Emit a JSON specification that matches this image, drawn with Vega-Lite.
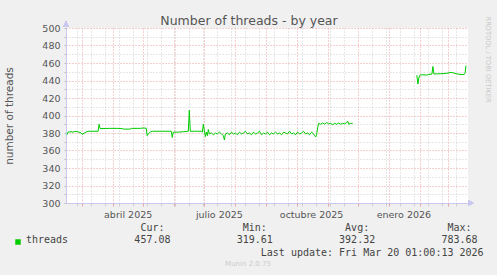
{
  "$schema": "https://vega.github.io/schema/vega-lite/v6.json",
  "width": 402,
  "height": 175,
  "autosize": {"type": "none"},
  "padding": {"left": 66, "top": 28, "right": 29, "bottom": 72},
  "background": "#f0f0f0",
  "title": {
    "text": "Munin 2.0.75",
    "orient": "bottom",
    "anchor": "middle",
    "frame": "group",
    "dx": -19,
    "offset": 3,
    "baseline": "top",
    "font": "DejaVu Sans",
    "fontSize": 7,
    "fontWeight": "normal",
    "color": "#cccccc"
  },
  "config": {
    "font": "DejaVu Sans",
    "view": {"fill": "#ffffff", "stroke": null}
  },
  "data": {
    "values": [
      {"d": "2025-02-14", "v": 378, "series": "threads", "seg": 1},
      {"d": "2025-02-15", "v": 381, "series": "threads", "seg": 1},
      {"d": "2025-02-18", "v": 381.5, "series": "threads", "seg": 1},
      {"d": "2025-02-20", "v": 381, "series": "threads", "seg": 1},
      {"d": "2025-02-22", "v": 381.8, "series": "threads", "seg": 1},
      {"d": "2025-02-24", "v": 381.5, "series": "threads", "seg": 1},
      {"d": "2025-02-26", "v": 381, "series": "threads", "seg": 1},
      {"d": "2025-02-28", "v": 380, "series": "threads", "seg": 1},
      {"d": "2025-03-01", "v": 378.5, "series": "threads", "seg": 1},
      {"d": "2025-03-02", "v": 379, "series": "threads", "seg": 1},
      {"d": "2025-03-04", "v": 380.5, "series": "threads", "seg": 1},
      {"d": "2025-03-06", "v": 381.5, "series": "threads", "seg": 1},
      {"d": "2025-03-07", "v": 382, "series": "threads", "seg": 1},
      {"d": "2025-03-12", "v": 382, "series": "threads", "seg": 1},
      {"d": "2025-03-17", "v": 382, "series": "threads", "seg": 1},
      {"d": "2025-03-18", "v": 390, "series": "threads", "seg": 1},
      {"d": "2025-03-19", "v": 385, "series": "threads", "seg": 1},
      {"d": "2025-03-28", "v": 385.3, "series": "threads", "seg": 1},
      {"d": "2025-04-05", "v": 385.3, "series": "threads", "seg": 1},
      {"d": "2025-04-10", "v": 385, "series": "threads", "seg": 1},
      {"d": "2025-04-11", "v": 384.5, "series": "threads", "seg": 1},
      {"d": "2025-04-18", "v": 384.5, "series": "threads", "seg": 1},
      {"d": "2025-04-19", "v": 385.3, "series": "threads", "seg": 1},
      {"d": "2025-04-28", "v": 385.3, "series": "threads", "seg": 1},
      {"d": "2025-05-01", "v": 385.7, "series": "threads", "seg": 1},
      {"d": "2025-05-04", "v": 385.5, "series": "threads", "seg": 1},
      {"d": "2025-05-05", "v": 377, "series": "threads", "seg": 1},
      {"d": "2025-05-06", "v": 379, "series": "threads", "seg": 1},
      {"d": "2025-05-08", "v": 381, "series": "threads", "seg": 1},
      {"d": "2025-05-10", "v": 382, "series": "threads", "seg": 1},
      {"d": "2025-05-20", "v": 382, "series": "threads", "seg": 1},
      {"d": "2025-05-29", "v": 382, "series": "threads", "seg": 1},
      {"d": "2025-05-30", "v": 375, "series": "threads", "seg": 1},
      {"d": "2025-05-31", "v": 381, "series": "threads", "seg": 1},
      {"d": "2025-06-05", "v": 381, "series": "threads", "seg": 1},
      {"d": "2025-06-10", "v": 381.5, "series": "threads", "seg": 1},
      {"d": "2025-06-15", "v": 382, "series": "threads", "seg": 1},
      {"d": "2025-06-16", "v": 406, "series": "threads", "seg": 1},
      {"d": "2025-06-17", "v": 382, "series": "threads", "seg": 1},
      {"d": "2025-06-24", "v": 382, "series": "threads", "seg": 1},
      {"d": "2025-06-28", "v": 382, "series": "threads", "seg": 1},
      {"d": "2025-06-29", "v": 381, "series": "threads", "seg": 1},
      {"d": "2025-06-30", "v": 390, "series": "threads", "seg": 1},
      {"d": "2025-07-01", "v": 383, "series": "threads", "seg": 1},
      {"d": "2025-07-02", "v": 376, "series": "threads", "seg": 1},
      {"d": "2025-07-03", "v": 381, "series": "threads", "seg": 1},
      {"d": "2025-07-04", "v": 377, "series": "threads", "seg": 1},
      {"d": "2025-07-05", "v": 384, "series": "threads", "seg": 1},
      {"d": "2025-07-06", "v": 379, "series": "threads", "seg": 1},
      {"d": "2025-07-08", "v": 380, "series": "threads", "seg": 1},
      {"d": "2025-07-10", "v": 378, "series": "threads", "seg": 1},
      {"d": "2025-07-12", "v": 380, "series": "threads", "seg": 1},
      {"d": "2025-07-14", "v": 379, "series": "threads", "seg": 1},
      {"d": "2025-07-16", "v": 381, "series": "threads", "seg": 1},
      {"d": "2025-07-18", "v": 379, "series": "threads", "seg": 1},
      {"d": "2025-07-20", "v": 377, "series": "threads", "seg": 1},
      {"d": "2025-07-21", "v": 372, "series": "threads", "seg": 1},
      {"d": "2025-07-22", "v": 379, "series": "threads", "seg": 1},
      {"d": "2025-07-24", "v": 380, "series": "threads", "seg": 1},
      {"d": "2025-07-26", "v": 378, "series": "threads", "seg": 1},
      {"d": "2025-07-28", "v": 381, "series": "threads", "seg": 1},
      {"d": "2025-07-30", "v": 379, "series": "threads", "seg": 1},
      {"d": "2025-08-01", "v": 380, "series": "threads", "seg": 1},
      {"d": "2025-08-03", "v": 378, "series": "threads", "seg": 1},
      {"d": "2025-08-05", "v": 381, "series": "threads", "seg": 1},
      {"d": "2025-08-07", "v": 379, "series": "threads", "seg": 1},
      {"d": "2025-08-09", "v": 380, "series": "threads", "seg": 1},
      {"d": "2025-08-11", "v": 382, "series": "threads", "seg": 1},
      {"d": "2025-08-13", "v": 379, "series": "threads", "seg": 1},
      {"d": "2025-08-15", "v": 380, "series": "threads", "seg": 1},
      {"d": "2025-08-17", "v": 378, "series": "threads", "seg": 1},
      {"d": "2025-08-19", "v": 381, "series": "threads", "seg": 1},
      {"d": "2025-08-21", "v": 379, "series": "threads", "seg": 1},
      {"d": "2025-08-23", "v": 380, "series": "threads", "seg": 1},
      {"d": "2025-08-25", "v": 382, "series": "threads", "seg": 1},
      {"d": "2025-08-27", "v": 378, "series": "threads", "seg": 1},
      {"d": "2025-08-29", "v": 380, "series": "threads", "seg": 1},
      {"d": "2025-08-31", "v": 379, "series": "threads", "seg": 1},
      {"d": "2025-09-02", "v": 381, "series": "threads", "seg": 1},
      {"d": "2025-09-04", "v": 378, "series": "threads", "seg": 1},
      {"d": "2025-09-06", "v": 380, "series": "threads", "seg": 1},
      {"d": "2025-09-08", "v": 379, "series": "threads", "seg": 1},
      {"d": "2025-09-10", "v": 381, "series": "threads", "seg": 1},
      {"d": "2025-09-12", "v": 379, "series": "threads", "seg": 1},
      {"d": "2025-09-14", "v": 380, "series": "threads", "seg": 1},
      {"d": "2025-09-16", "v": 378, "series": "threads", "seg": 1},
      {"d": "2025-09-18", "v": 381, "series": "threads", "seg": 1},
      {"d": "2025-09-20", "v": 380, "series": "threads", "seg": 1},
      {"d": "2025-09-22", "v": 379, "series": "threads", "seg": 1},
      {"d": "2025-09-24", "v": 382, "series": "threads", "seg": 1},
      {"d": "2025-09-26", "v": 379, "series": "threads", "seg": 1},
      {"d": "2025-09-28", "v": 380, "series": "threads", "seg": 1},
      {"d": "2025-09-30", "v": 378, "series": "threads", "seg": 1},
      {"d": "2025-10-02", "v": 381, "series": "threads", "seg": 1},
      {"d": "2025-10-04", "v": 379, "series": "threads", "seg": 1},
      {"d": "2025-10-06", "v": 380, "series": "threads", "seg": 1},
      {"d": "2025-10-08", "v": 382, "series": "threads", "seg": 1},
      {"d": "2025-10-10", "v": 379, "series": "threads", "seg": 1},
      {"d": "2025-10-12", "v": 380, "series": "threads", "seg": 1},
      {"d": "2025-10-14", "v": 378, "series": "threads", "seg": 1},
      {"d": "2025-10-16", "v": 381, "series": "threads", "seg": 1},
      {"d": "2025-10-18", "v": 379, "series": "threads", "seg": 1},
      {"d": "2025-10-19", "v": 377, "series": "threads", "seg": 1},
      {"d": "2025-10-20", "v": 375.5, "series": "threads", "seg": 1},
      {"d": "2025-10-21", "v": 378, "series": "threads", "seg": 1},
      {"d": "2025-10-22", "v": 386, "series": "threads", "seg": 1},
      {"d": "2025-10-23", "v": 391, "series": "threads", "seg": 1},
      {"d": "2025-10-25", "v": 390, "series": "threads", "seg": 1},
      {"d": "2025-10-27", "v": 391.5, "series": "threads", "seg": 1},
      {"d": "2025-10-29", "v": 390, "series": "threads", "seg": 1},
      {"d": "2025-10-31", "v": 392, "series": "threads", "seg": 1},
      {"d": "2025-11-02", "v": 390.5, "series": "threads", "seg": 1},
      {"d": "2025-11-04", "v": 391, "series": "threads", "seg": 1},
      {"d": "2025-11-06", "v": 389.5, "series": "threads", "seg": 1},
      {"d": "2025-11-08", "v": 391, "series": "threads", "seg": 1},
      {"d": "2025-11-10", "v": 390, "series": "threads", "seg": 1},
      {"d": "2025-11-12", "v": 391.5, "series": "threads", "seg": 1},
      {"d": "2025-11-14", "v": 390, "series": "threads", "seg": 1},
      {"d": "2025-11-16", "v": 391, "series": "threads", "seg": 1},
      {"d": "2025-11-18", "v": 390.5, "series": "threads", "seg": 1},
      {"d": "2025-11-20", "v": 392, "series": "threads", "seg": 1},
      {"d": "2025-11-21", "v": 393.5, "series": "threads", "seg": 1},
      {"d": "2025-11-22", "v": 390, "series": "threads", "seg": 1},
      {"d": "2025-11-24", "v": 391, "series": "threads", "seg": 1},
      {"d": "2025-11-26", "v": 391, "series": "threads", "seg": 1},
      {"d": "2026-01-29", "v": 446, "series": "threads", "seg": 2},
      {"d": "2026-01-30", "v": 436, "series": "threads", "seg": 2},
      {"d": "2026-01-31", "v": 443, "series": "threads", "seg": 2},
      {"d": "2026-02-01", "v": 446, "series": "threads", "seg": 2},
      {"d": "2026-02-02", "v": 446.5, "series": "threads", "seg": 2},
      {"d": "2026-02-05", "v": 446.5, "series": "threads", "seg": 2},
      {"d": "2026-02-08", "v": 446.2, "series": "threads", "seg": 2},
      {"d": "2026-02-10", "v": 447, "series": "threads", "seg": 2},
      {"d": "2026-02-13", "v": 447.4, "series": "threads", "seg": 2},
      {"d": "2026-02-14", "v": 456, "series": "threads", "seg": 2},
      {"d": "2026-02-15", "v": 447.4, "series": "threads", "seg": 2},
      {"d": "2026-02-18", "v": 447.6, "series": "threads", "seg": 2},
      {"d": "2026-02-22", "v": 447.8, "series": "threads", "seg": 2},
      {"d": "2026-02-26", "v": 448, "series": "threads", "seg": 2},
      {"d": "2026-03-01", "v": 448.5, "series": "threads", "seg": 2},
      {"d": "2026-03-04", "v": 449.3, "series": "threads", "seg": 2},
      {"d": "2026-03-07", "v": 448.5, "series": "threads", "seg": 2},
      {"d": "2026-03-10", "v": 447.5, "series": "threads", "seg": 2},
      {"d": "2026-03-13", "v": 447, "series": "threads", "seg": 2},
      {"d": "2026-03-16", "v": 446.8, "series": "threads", "seg": 2},
      {"d": "2026-03-17", "v": 447, "series": "threads", "seg": 2},
      {"d": "2026-03-18", "v": 448, "series": "threads", "seg": 2},
      {"d": "2026-03-19", "v": 457, "series": "threads", "seg": 2}
    ]
  },
  "resolve": {"axis": {"x": "independent", "y": "independent"}},
  "layer": [
    {
      "mark": {"type": "line", "strokeWidth": 1},
      "encoding": {
        "x": {
          "field": "d",
          "type": "temporal",
          "scale": {"type": "utc", "domain": [{"year": 2025, "month": 2, "date": 13, "utc": true}, {"year": 2026, "month": 3, "date": 21, "utc": true}]},
          "axis": {
            "orient": "bottom",
            "values": [
              {"year": 2025, "month": 3, "date": 1, "utc": true},
              {"year": 2025, "month": 4, "date": 1, "utc": true},
              {"year": 2025, "month": 5, "date": 1, "utc": true},
              {"year": 2025, "month": 6, "date": 1, "utc": true},
              {"year": 2025, "month": 7, "date": 1, "utc": true},
              {"year": 2025, "month": 8, "date": 1, "utc": true},
              {"year": 2025, "month": 9, "date": 1, "utc": true},
              {"year": 2025, "month": 10, "date": 1, "utc": true},
              {"year": 2025, "month": 11, "date": 1, "utc": true},
              {"year": 2025, "month": 12, "date": 1, "utc": true},
              {"year": 2026, "month": 1, "date": 1, "utc": true},
              {"year": 2026, "month": 2, "date": 1, "utc": true},
              {"year": 2026, "month": 3, "date": 1, "utc": true},
              {"year": 2025, "month": 2, "date": 24, "utc": true},
              {"year": 2025, "month": 3, "date": 10, "utc": true},
              {"year": 2025, "month": 3, "date": 24, "utc": true},
              {"year": 2025, "month": 4, "date": 7, "utc": true},
              {"year": 2025, "month": 4, "date": 21, "utc": true},
              {"year": 2025, "month": 5, "date": 5, "utc": true},
              {"year": 2025, "month": 5, "date": 19, "utc": true},
              {"year": 2025, "month": 6, "date": 2, "utc": true},
              {"year": 2025, "month": 6, "date": 16, "utc": true},
              {"year": 2025, "month": 6, "date": 30, "utc": true},
              {"year": 2025, "month": 7, "date": 14, "utc": true},
              {"year": 2025, "month": 7, "date": 28, "utc": true},
              {"year": 2025, "month": 8, "date": 11, "utc": true},
              {"year": 2025, "month": 8, "date": 25, "utc": true},
              {"year": 2025, "month": 9, "date": 8, "utc": true},
              {"year": 2025, "month": 9, "date": 22, "utc": true},
              {"year": 2025, "month": 10, "date": 6, "utc": true},
              {"year": 2025, "month": 10, "date": 20, "utc": true},
              {"year": 2025, "month": 11, "date": 3, "utc": true},
              {"year": 2025, "month": 11, "date": 17, "utc": true},
              {"year": 2025, "month": 12, "date": 15, "utc": true},
              {"year": 2025, "month": 12, "date": 29, "utc": true},
              {"year": 2026, "month": 1, "date": 12, "utc": true},
              {"year": 2026, "month": 1, "date": 26, "utc": true},
              {"year": 2026, "month": 2, "date": 9, "utc": true},
              {"year": 2026, "month": 2, "date": 23, "utc": true},
              {"year": 2026, "month": 3, "date": 9, "utc": true},
              {"year": 2025, "month": 4, "date": 15, "hours": 12, "utc": true},
              {"year": 2025, "month": 7, "date": 15, "hours": 12, "utc": true},
              {"year": 2025, "month": 10, "date": 15, "hours": 12, "utc": true},
              {"year": 2026, "month": 1, "date": 15, "hours": 12, "utc": true}
            ],
            "grid": true,
            "gridDash": [1, 2],
            "gridColor": {"condition": {"test": "utcdate(datum.value) === 1 && utchours(datum.value) === 0", "value": "#e8a0a0"}, "value": "#cfcfcf"},
            "gridOpacity": {"condition": {"test": "utchours(datum.value) === 12", "value": 0}, "value": 1},
            "ticks": true,
            "tickSize": 3,
            "tickColor": {"condition": {"test": "utcdate(datum.value) === 1 && utchours(datum.value) === 0", "value": "#e8a0a0"}, "value": "#cfcfcf"},
            "tickOpacity": {"condition": {"test": "utchours(datum.value) === 12", "value": 0}, "value": 1},
            "labelExpr": "utchours(datum.value) === 12 ? ['enero','febrero','marzo','abril','mayo','junio','julio','agosto','septiembre','octubre','noviembre','diciembre'][utcmonth(datum.value)] + ' ' + utcyear(datum.value) : ''",
            "labelFont": "DejaVu Sans",
            "labelFontSize": 9.5,
            "labelColor": "#555555",
            "labelPadding": 3,
            "labelBaseline": "top",
            "labelOverlap": false,
            "labelFlush": false,
            "labelBound": false,
            "domainColor": "#c8c8f0",
            "domainWidth": 1,
            "title": [
              "\u200b\u00a0\u00a0\u00a0\u00a0\u00a0\u00a0\u00a0\u00a0\u00a0\u00a0\u00a0\u00a0\u00a0\u00a0\u00a0\u00a0\u00a0\u00a0\u00a0Cur:\u00a0\u00a0\u00a0\u00a0\u00a0\u00a0\u00a0\u00a0\u00a0\u00a0\u00a0\u00a0\u00a0Min:\u00a0\u00a0\u00a0\u00a0\u00a0\u00a0\u00a0\u00a0\u00a0\u00a0\u00a0\u00a0\u00a0Avg:\u00a0\u00a0\u00a0\u00a0\u00a0\u00a0\u00a0\u00a0\u00a0\u00a0\u00a0\u00a0\u00a0Max:",
              "threads\u00a0\u00a0\u00a0\u00a0\u00a0\u00a0\u00a0\u00a0\u00a0\u00a0\u00a0457.08\u00a0\u00a0\u00a0\u00a0\u00a0\u00a0\u00a0\u00a0\u00a0\u00a0\u00a0319.61\u00a0\u00a0\u00a0\u00a0\u00a0\u00a0\u00a0\u00a0\u00a0\u00a0\u00a0392.32\u00a0\u00a0\u00a0\u00a0\u00a0\u00a0\u00a0\u00a0\u00a0\u00a0\u00a0783.68",
              "\u200b\u00a0\u00a0\u00a0\u00a0\u00a0\u00a0\u00a0\u00a0\u00a0\u00a0\u00a0\u00a0\u00a0\u00a0\u00a0\u00a0\u00a0\u00a0\u00a0\u00a0\u00a0\u00a0\u00a0\u00a0\u00a0\u00a0\u00a0\u00a0\u00a0\u00a0\u00a0\u00a0\u00a0\u00a0\u00a0\u00a0\u00a0\u00a0\u00a0Last update: Fri Mar 20 01:00:13 2026"
            ],
            "titleFont": "DejaVu Sans Mono",
            "titleFontSize": 10,
            "titleFontWeight": "normal",
            "titleColor": "#444444",
            "titleAlign": "left",
            "titleAnchor": "start",
            "titleBaseline": "alphabetic",
            "titleLineHeight": 12.3,
            "titleX": -40.5,
            "titleY": 27.5
          }
        },
        "y": {
          "field": "v",
          "type": "quantitative",
          "scale": {"domain": [300, 500], "nice": false, "zero": false},
          "axis": {
            "orient": "left",
            "values": [300, 310, 320, 330, 340, 350, 360, 370, 380, 390, 400, 410, 420, 430, 440, 450, 460, 470, 480, 490, 500],
            "grid": true,
            "gridDash": [1, 2],
            "gridColor": {"condition": {"test": "datum.value % 20 === 0", "value": "#e8a0a0"}, "value": "#cfcfcf"},
            "ticks": true,
            "tickSize": 2,
            "tickColor": "#bbbbbb",
            "labelExpr": "datum.value % 20 === 0 ? datum.label : ''",
            "format": "d",
            "labelFont": "DejaVu Sans",
            "labelFontSize": 9.5,
            "labelColor": "#555555",
            "labelPadding": 4,
            "domainColor": "#c8c8f0",
            "title": "number of threads",
            "titleFont": "DejaVu Sans",
            "titleFontSize": 10.5,
            "titleFontWeight": "normal",
            "titleColor": "#555555",
            "titleAngle": -90,
            "titleAlign": "center",
            "titleBaseline": "alphabetic",
            "titleX": -54,
            "titleY": 87.5
          }
        },
        "color": {
          "field": "series",
          "type": "nominal",
          "scale": {"range": ["#00cc00"]},
          "legend": {
            "orient": "none",
            "legendX": -53,
            "legendY": 209,
            "title": null,
            "padding": 0,
            "symbolType": "square",
            "symbolSize": 30,
            "symbolStrokeWidth": 0,
            "symbolFillColor": "#00cc00",
            "labelExpr": "''",
            "labelFont": "DejaVu Sans Mono",
            "labelFontSize": 10,
            "labelColor": "#444444",
            "labelOffset": 6,
            "encode": {"symbols": {"update": {"fill": {"value": "#00cc00"}, "stroke": {"value": "#00cc00"}, "strokeWidth": {"value": 0}, "opacity": {"value": 1}}}}
          }
        },
        "detail": {"field": "seg", "type": "nominal"}
      }
    },
    {
      "mark": {"type": "point", "shape": "triangle-up", "filled": true, "size": 28, "color": "#c8c8f0", "opacity": 1},
      "encoding": {
        "x": {
          "datum": {"year": 2025, "month": 2, "date": 13, "utc": true},
          "type": "temporal",
          "axis": {
            "orient": "top",
            "grid": false,
            "ticks": false,
            "labels": false,
            "domain": false,
            "title": "Number of threads - by year",
            "titleFont": "DejaVu Sans",
            "titleFontSize": 12.5,
            "titleFontWeight": "normal",
            "titleColor": "#555555",
            "titleAlign": "center",
            "titleAnchor": null,
            "titleBaseline": "alphabetic",
            "titleX": 182.5,
            "titleY": -4
          }
        },
        "y": {
          "datum": 504.5,
          "type": "quantitative",
          "axis": {
            "orient": "right",
            "grid": false,
            "ticks": false,
            "labels": false,
            "domain": false,
            "title": "RRDTOOL / TOBI OETIKER",
            "titleFont": "DejaVu Sans",
            "titleFontSize": 6.7,
            "titleFontWeight": "normal",
            "titleColor": "#c8c8c8",
            "titleAngle": 90,
            "titleAlign": "left",
            "titleAnchor": null,
            "titleBaseline": "alphabetic",
            "titleX": 17,
            "titleY": -12
          }
        }
      }
    },
    {
      "mark": {"type": "point", "shape": "triangle-right", "filled": true, "size": 28, "color": "#c8c8f0", "opacity": 1},
      "encoding": {
        "x": {"datum": {"year": 2026, "month": 3, "date": 24, "utc": true}, "type": "temporal", "axis": null},
        "y": {"datum": 300, "type": "quantitative", "axis": null}
      }
    }
  ]
}
